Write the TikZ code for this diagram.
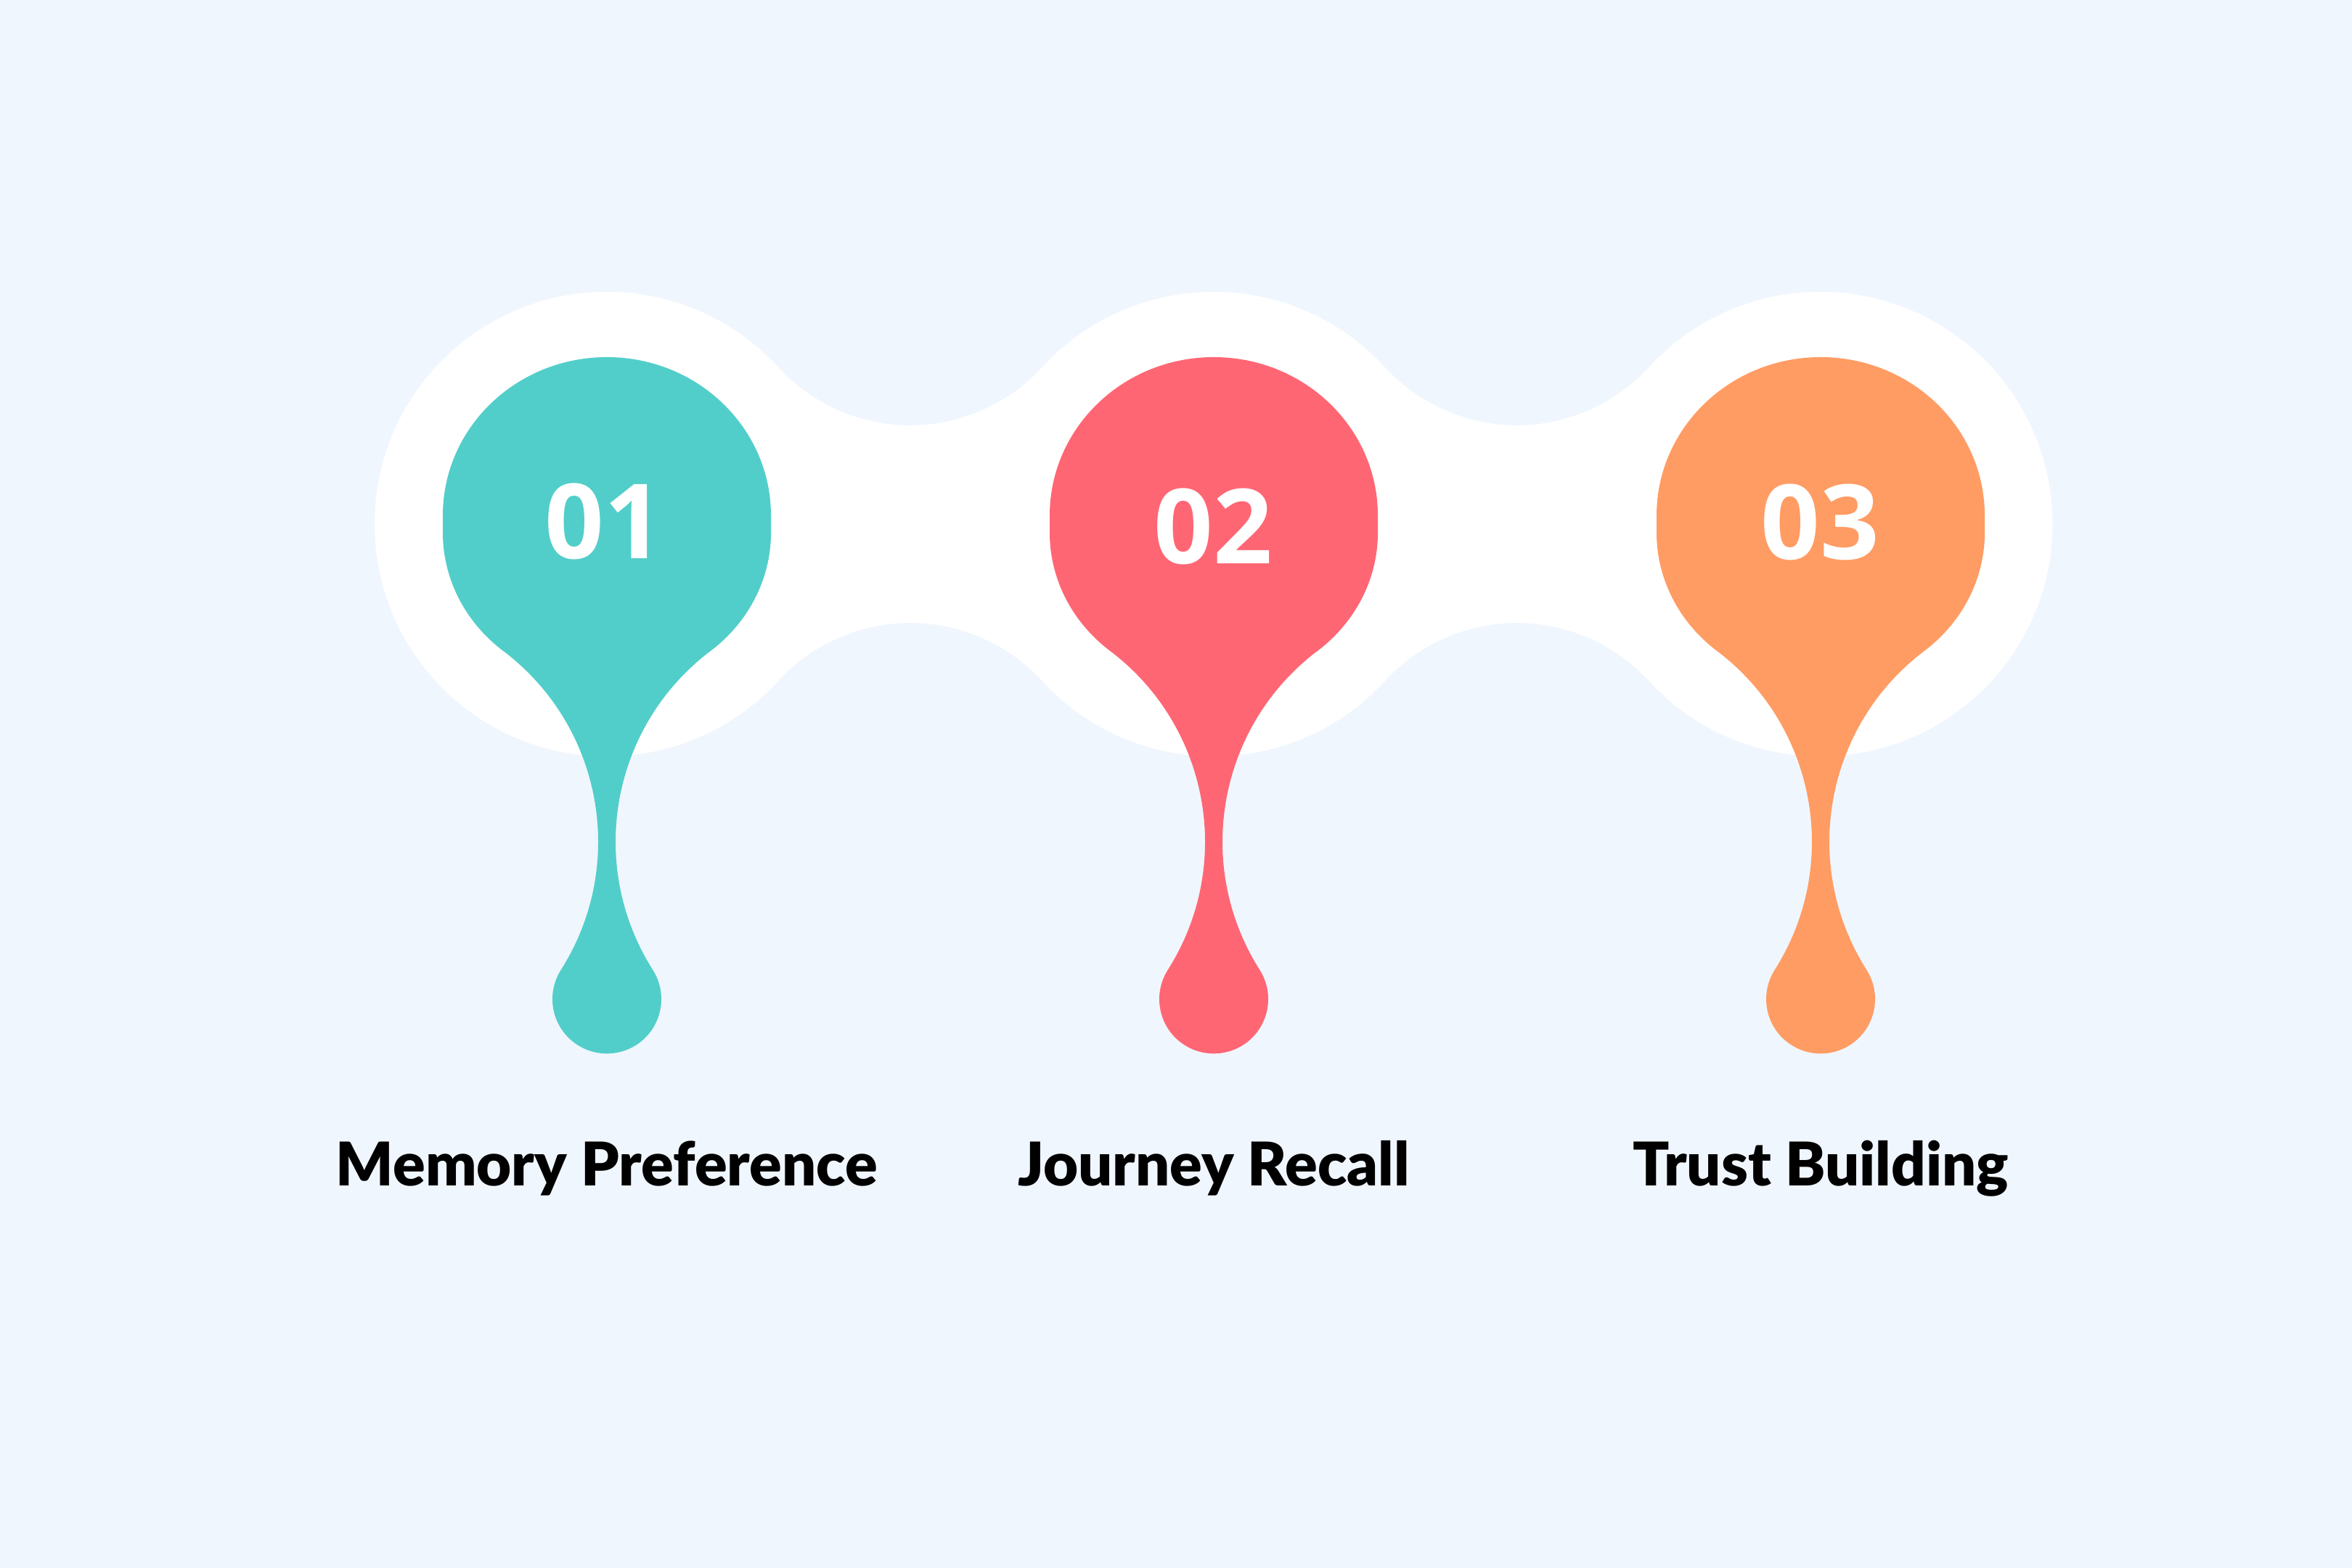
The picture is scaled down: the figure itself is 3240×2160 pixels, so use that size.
\documentclass[tikz,border=0pt]{standalone}
\usepackage{fontspec}
\setmainfont{Lato}
\IfFontExistsTF{Lato Black}{\newfontfamily\labfont{Lato Black}}{\newfontfamily\labfont{Lato}[UprightFont=*-Bold]}
\newfontfamily\digfont{Open Sans}
\definecolor{bg}{HTML}{F0F6FE}
\definecolor{cteal}{HTML}{52CECA}
\definecolor{cred}{HTML}{FF6674}
\definecolor{corange}{HTML}{FF9C63}
\tikzset{
  pics/droplet/.style={code={
    \fill[#1] (0,1668)
      arc[start angle=90,end angle=180,x radius=226,y radius=218]
      -- (-226,1426)
      arc[start angle=180,end angle=232.05,x radius=226,y radius=210]
      arc[start angle=52.07,end angle=-32.4,radius=329.6]
      arc[start angle=147.6,end angle=392.4,radius=75]
      arc[start angle=212.4,end angle=127.93,radius=329.6]
      arc[start angle=307.95,end angle=360,x radius=226,y radius=210]
      -- (226,1450)
      arc[start angle=0,end angle=90,x radius=226,y radius=218] -- cycle;
  }},
  numstyle/.style={text=white,inner sep=0pt,font=\digfont\bfseries\fontsize{143}{150}\selectfont},
  labelstyle/.style={text=black,inner sep=0pt,anchor=base,font=\labfont\fontsize{83}{90}\selectfont}
}
\begin{document}
\begin{tikzpicture}[x=1pt,y=1pt]
\fill[bg] (0,0) rectangle (3240,2160);
\useasboundingbox (0,0) rectangle (3240,2160);
% white band
\fill[white] (516,1438)
  arc[start angle=180,end angle=42.5,radius=320]
  arc[start angle=222.5,end angle=317.5,radius=246.8]
  arc[start angle=137.5,end angle=42.5,radius=320]
  arc[start angle=222.5,end angle=317.5,radius=246.8]
  arc[start angle=137.5,end angle=-137.5,radius=320]
  arc[start angle=42.5,end angle=137.5,radius=246.8]
  arc[start angle=-42.5,end angle=-137.5,radius=320]
  arc[start angle=42.5,end angle=137.5,radius=246.8]
  arc[start angle=-42.5,end angle=-180,radius=320] -- cycle;
% droplets
\pic at (836,0) {droplet=cteal};
\pic at (1672,0) {droplet=cred};
\pic at (2508,0) {droplet=corange};
% numbers
\node[numstyle] (n1) at (832,1442) {01};
\node[numstyle] (n2) at (1671,1435) {02};
\node[numstyle] (n3) at (2507,1441) {03};
% labels
\node[labelstyle] (l1) at (836,526) {Memory Preference};
\node[labelstyle] (l2) at (1672,526) {Journey Recall};
\node[labelstyle] (l3) at (2508,526) {Trust Building};
\end{tikzpicture}
\end{document}
